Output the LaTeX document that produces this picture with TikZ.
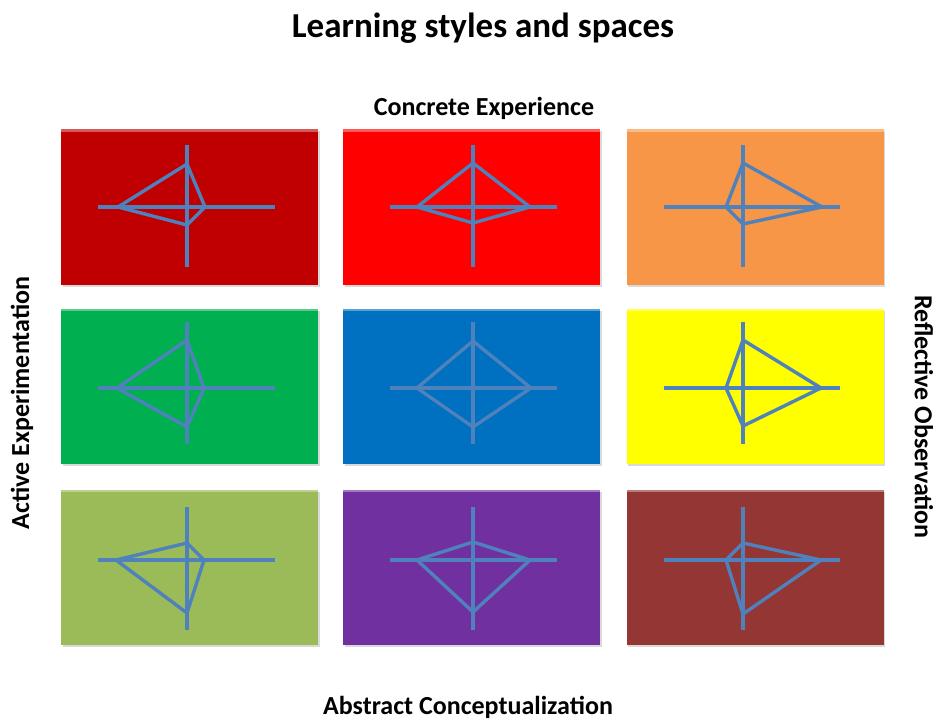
\documentclass[tikz,border=0pt]{standalone}
\usepackage{fontspec}
\setmainfont{Carlito}
\usetikzlibrary{shadows}

\definecolor{cdarkred}{HTML}{C00000}
\definecolor{cred}{HTML}{FF0000}
\definecolor{corange}{HTML}{F79646}
\definecolor{cgreen}{HTML}{00B050}
\definecolor{cblue}{HTML}{0070C0}
\definecolor{cyellow}{HTML}{FFFF00}
\definecolor{colive}{HTML}{9BBB59}
\definecolor{cpurple}{HTML}{7030A0}
\definecolor{cbrown}{HTML}{943634}
\definecolor{caxis}{HTML}{4F81BD}

\tikzset{
    cell/.style={draw=none, minimum width=257pt, minimum height=155pt, inner sep=0pt,
        drop shadow={shadow xshift=1.5pt, shadow yshift=-2pt, opacity=0.3}},
    axis/.style={draw=caxis, line width=3.4pt, line join=round},
    label/.style={font=\bfseries\fontsize{26}{30}\selectfont, inner sep=0pt}
}

\begin{document}
\begin{tikzpicture}[x=1pt,y=-1pt]
    \useasboundingbox (0,0) rectangle (936,719);

    % column: box centre, vertical axis, left and right end of horizontal axis
    % row: box centre, horizontal axis, top and bottom end of vertical axis
    \foreach \c/\r/\fc/\l/\t/\rr/\b in {
        1/1/cdarkred/69/43/18/18, 2/1/cred/56/44/57/16,    3/1/corange/17/44/79/17,
        1/2/cgreen/70/48/17/39,   2/2/cblue/56/47/58/39,   3/2/cyellow/17/48/78/38,
        1/3/colive/71/17/17/53,   2/3/cpurple/56/18/57/52, 3/3/cbrown/17/17/78/54}{%
        \pgfmathsetmacro\bx{{189.5,471.5,755}[\c-1]}
        \pgfmathsetmacro\ax{{187,473,743}[\c-1]}
        \pgfmathsetmacro\hl{{98,390,664}[\c-1]}
        \pgfmathsetmacro\hr{{275,557,840}[\c-1]}
        \pgfmathsetmacro\by{{207,386,567}[\r-1]}
        \pgfmathsetmacro\ay{{207,388,560}[\r-1]}
        \pgfmathsetmacro\vt{{145,322,507}[\r-1]}
        \pgfmathsetmacro\vb{{267,444,630}[\r-1]}
        \node [cell, fill=\fc] (cell\c\r) at (\bx,\by) {};
        \draw [white, opacity=0.35, line width=3pt]
            ([yshift=-1.5pt]cell\c\r.north west) -- ([yshift=-1.5pt]cell\c\r.north east);
        \coordinate (o\c\r) at (\ax,\ay);
        \draw [axis] (\hl,\ay) -- (\hr,\ay);
        \draw [axis] (\ax,\vt) -- (\ax,\vb);
        \draw [axis] ({\ax-\l},\ay) -- (\ax,{\ay-\t}) -- ({\ax+\rr},\ay) -- (\ax,{\ay+\b}) -- cycle;
    }

    \node [label, font=\bfseries\fontsize{35}{40}\selectfont] (title) at (483,28) {Learning styles and spaces};
    \node [label] (ce) at (484,108) {Concrete Experience};
    \node [label] (ac) at (468,707) {Abstract Conceptualization};
    \node [label, rotate=90]  (ae) at (22,403) {Active Experimentation};
    \node [label, rotate=-90] (ro) at (924,417) {Reflective Observation};
\end{tikzpicture}
\end{document}
